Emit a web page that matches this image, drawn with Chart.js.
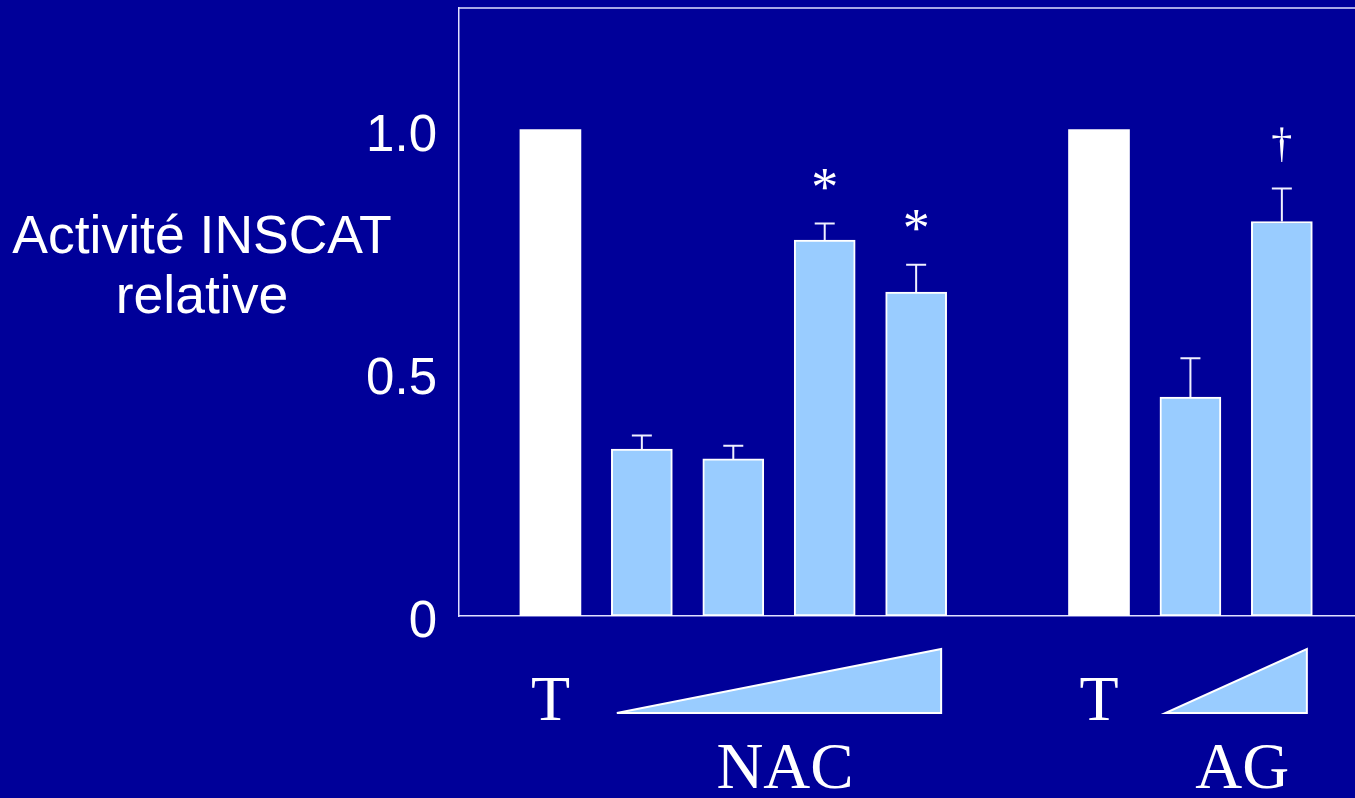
<!DOCTYPE html>
<html>
<head>
<meta charset="utf-8">
<script src="https://cdn.jsdelivr.net/npm/chart.js@4"></script>
<style>
  html, body { margin: 0; padding: 0; background: #000099; }
  #wrap { width: 1355px; height: 798px; position: relative; }
</style>
</head>
<body>
<div id="wrap"><canvas id="barChart"></canvas></div>
<script>
// slots along the x axis (empty slot = gap between the two groups)
const categories = ['T', 'NAC 1', 'NAC 2', 'NAC 3', 'NAC 4', '', 'T', 'AG 1', 'AG 2'];
const values     = [1.0, 0.343, 0.323, 0.773, 0.666, null, 1.0, 0.450, 0.811];
const errors     = [0, 0.028, 0.027, 0.034, 0.056, null, 0, 0.080, 0.068];
const marks      = ['', '', '', '*', '*', '', '', '', '\u2020'];
const yTicks     = [0, 0.5, 1.0];
const yTickLabels = ['0', '0.5', '1.0'];
const groups = [
  { label: 'NAC', from: 2, to: 5 },
  { label: 'AG',  from: 8, to: 9 }
];
const yTitle = ['Activité INSCAT', 'relative'];

const LIGHT = '#99CCFF';

const points = [];
const colors = [];
const borders = [];
categories.forEach((c, i) => {
  if (values[i] === null) return;
  points.push({ x: i + 1, y: values[i], err: errors[i], mark: marks[i] });
  colors.push(c === 'T' ? '#FFFFFF' : LIGHT);
  borders.push(c === 'T' ? 0 : 2);
});

const noPad = scale => {
  scale.paddingTop = 0;
  scale.paddingBottom = 0;
  scale.paddingLeft = 0;
  scale.paddingRight = 0;
};

const decorPlugin = {
  id: 'decor',
  afterDatasetsDraw(chart) {
    const ctx = chart.ctx;
    const area = chart.chartArea;
    const xs = chart.scales.x;
    const ys = chart.scales.y;
    ctx.save();

    // top frame line
    ctx.strokeStyle = '#E0E0FF';
    ctx.lineWidth = 1.5;
    ctx.beginPath();
    ctx.moveTo(area.left, area.top);
    ctx.lineTo(area.right, area.top);
    ctx.stroke();

    // error bars
    ctx.strokeStyle = '#F0F0FF';
    ctx.lineWidth = 2;
    points.forEach(p => {
      if (!p.err) return;
      const cx = xs.getPixelForValue(p.x);
      const yTop = ys.getPixelForValue(p.y);
      const yErr = ys.getPixelForValue(p.y + p.err);
      ctx.beginPath();
      ctx.moveTo(cx, yTop);
      ctx.lineTo(cx, yErr);
      ctx.moveTo(cx - 10, yErr);
      ctx.lineTo(cx + 10, yErr);
      ctx.stroke();
    });

    // significance marks
    ctx.fillStyle = '#FFFFFF';
    ctx.textAlign = 'center';
    ctx.textBaseline = 'alphabetic';
    points.forEach(p => {
      if (!p.mark) return;
      ctx.font = (p.mark === '*' ? '54px' : '42px') + ' "Liberation Serif", "Times New Roman", serif';
      const cx = xs.getPixelForValue(p.x);
      const yErr = ys.getPixelForValue(p.y + p.err);
      const m = ctx.measureText(p.mark);
      const mid = (m.actualBoundingBoxAscent - m.actualBoundingBoxDescent) / 2;
      ctx.fillText(p.mark, cx, yErr - 44 + mid);
    });

    // y title, horizontal, two lines
    ctx.font = '53.5px "Liberation Sans", Arial, sans-serif';
    ctx.fillText(yTitle[0], 202, 253);
    ctx.fillText(yTitle[1], 202, 313);

    // control labels under the bars
    ctx.font = '64px "Liberation Serif", "Times New Roman", serif';
    categories.forEach((c, i) => {
      if (c === 'T') ctx.fillText('T', xs.getPixelForValue(i + 1), area.bottom + 104);
    });

    // dose wedges and group names
    groups.forEach(g => {
      const x0 = xs.getPixelForValue(g.from) - 25;
      const x1 = xs.getPixelForValue(g.to) + 25;
      const yb = area.bottom + 97;
      const yt = area.bottom + 33;
      ctx.beginPath();
      ctx.moveTo(x0, yb);
      ctx.lineTo(x1, yb);
      ctx.lineTo(x1, yt);
      ctx.closePath();
      ctx.fillStyle = LIGHT;
      ctx.fill();
      ctx.strokeStyle = '#FFFFFF';
      ctx.lineWidth = 2;
      ctx.stroke();
      ctx.fillStyle = '#FFFFFF';
      ctx.font = '65px "Liberation Serif", "Times New Roman", serif';
      ctx.fillText(g.label, (x0 + x1) / 2 + 6, area.bottom + 172);
    });

    ctx.restore();
  }
};

const chart = new Chart(document.getElementById('barChart'), {
  type: 'bar',
  data: {
    datasets: [{
      data: points,
      backgroundColor: colors,
      borderColor: '#FFFFFF',
      borderWidth: borders,
      barThickness: 61,
      borderSkipped: false
    }]
  },
  options: {
    responsive: true,
    maintainAspectRatio: false,
    animation: false,
    layout: { padding: { top: 8, right: 0, bottom: 182, left: 0 } },
    plugins: { legend: { display: false }, tooltip: { enabled: false } },
    scales: {
      x: {
        type: 'linear',
        offset: false,
        min: 0,
        max: 9.8,
        grid: { display: false },
        ticks: { display: false },
        border: { display: true, color: '#E0E0FF', width: 1.5 },
        afterFit: scale => { scale.height = 0; noPad(scale); }
      },
      y: {
        min: 0,
        max: 1.25,
        grid: { display: false },
        border: { display: true, color: '#E0E0FF', width: 1.5 },
        afterBuildTicks: scale => { scale.ticks = yTicks.map(v => ({ value: v })); },
        afterFit: scale => { scale.width = 459; noPad(scale); },
        ticks: {
          color: '#FFFFFF',
          padding: 14,
          labelOffset: 7,
          font: { family: '"Liberation Sans", Arial, sans-serif', size: 51 },
          callback: value => yTickLabels[yTicks.indexOf(value)]
        }
      }
    }
  },
  plugins: [decorPlugin]
});
</script>
</body>
</html>
